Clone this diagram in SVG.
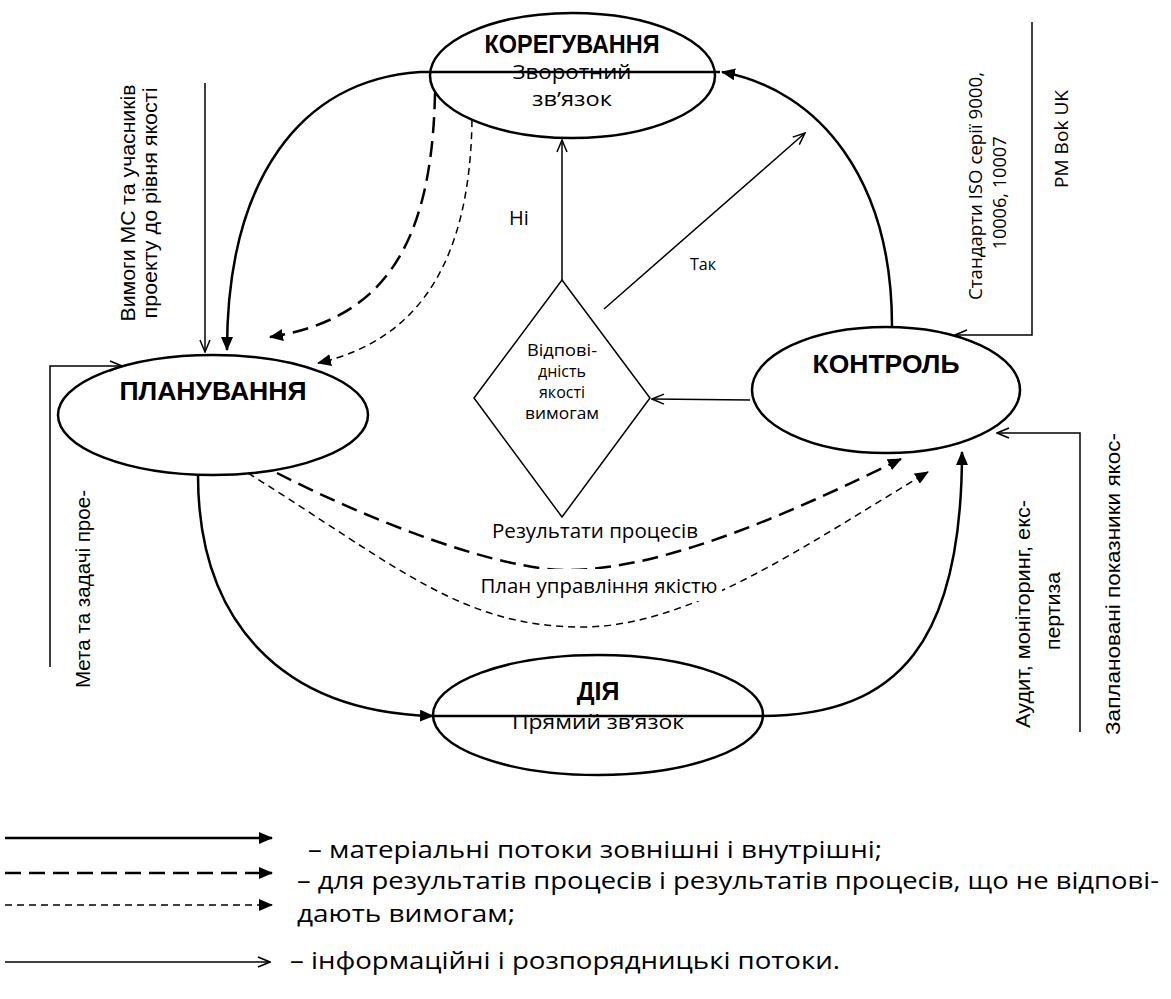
<svg xmlns="http://www.w3.org/2000/svg" width="1171" height="999" viewBox="0 0 1171 999">
  <style>
    .node { fill: #fff; stroke: #000; stroke-width: 2.5; }
    .dia { fill: #fff; stroke: #000; stroke-width: 1.5; }
    .title { font-family: "Liberation Sans", Arial, sans-serif; font-weight: bold; font-size: 25px; text-anchor: middle; fill: #000; }
    .lbl { font-family: "Open Sans", "Liberation Sans", sans-serif; font-size: 20px; text-anchor: middle; fill: #000; }
    .small { font-family: "Open Sans", "Liberation Sans", sans-serif; font-size: 16px; text-anchor: middle; fill: #000; }
    .side { font-family: "Liberation Sans", Arial, sans-serif; font-size: 20px; text-anchor: middle; fill: #000; }
    .std { font-family: "Open Sans", "Liberation Sans", sans-serif; font-size: 18px; text-anchor: middle; fill: #000; }
    .leg { font-family: "Open Sans", "Liberation Sans", sans-serif; font-size: 23px; fill: #000; }
    .mat { fill: none; stroke: #000; stroke-width: 2.5; marker-end: url(#head); }
    .res { fill: none; stroke: #000; stroke-width: 2.5; stroke-dasharray: 16 8; marker-end: url(#head); }
    .nc { fill: none; stroke: #000; stroke-width: 1.5; stroke-dasharray: 7 5; marker-end: url(#head); }
    .info { fill: none; stroke: #000; stroke-width: 1.5; marker-end: url(#open); }
  </style>
  <defs>
    <marker id="head" viewBox="0 0 14 12" refX="13" refY="6" markerWidth="14" markerHeight="12" markerUnits="userSpaceOnUse" orient="auto">
      <path d="M0,0 L14,6 L0,12 z" fill="#000"/>
    </marker>
    <marker id="open" viewBox="0 0 14 12" refX="13" refY="6" markerWidth="14" markerHeight="12" markerUnits="userSpaceOnUse" orient="auto">
      <path d="M1,1 L13,6 L1,11" fill="none" stroke="#000" stroke-width="1.5"/>
    </marker>
  </defs>

  <rect width="1171" height="999" fill="#fff"/>

  <!-- Nodes -->
  <g id="node-correction">
    <ellipse class="node" cx="572.5" cy="75.5" rx="142.5" ry="62.5"/>
    <text class="title" x="572" y="53" textLength="175" lengthAdjust="spacingAndGlyphs">КОРЕГУВАННЯ</text>
    <text class="lbl" x="572" y="79" font-size="21" textLength="119" lengthAdjust="spacingAndGlyphs">Зворотний</text>
    <text class="lbl" x="572" y="106" font-size="21" textLength="80" lengthAdjust="spacingAndGlyphs">зв’язок</text>
  </g>

  <g id="node-planning">
    <ellipse class="node" cx="213" cy="415" rx="155" ry="60"/>
    <text class="title" x="213" y="400" textLength="187" lengthAdjust="spacingAndGlyphs">ПЛАНУВАННЯ</text>
  </g>

  <g id="node-control">
    <ellipse class="node" cx="886" cy="390" rx="134" ry="63"/>
    <text class="title" x="886" y="373" textLength="147" lengthAdjust="spacingAndGlyphs">КОНТРОЛЬ</text>
  </g>

  <g id="node-action">
    <ellipse class="node" cx="598" cy="715" rx="165" ry="60"/>
    <text class="title" x="598" y="700" font-size="24">ДІЯ</text>
    <text class="lbl" x="598" y="729" textLength="172" lengthAdjust="spacingAndGlyphs">Прямий зв’язок</text>
  </g>

  <g id="node-decision">
    <polygon class="dia" points="562,280 650,398 562,517 474,398"/>
    <text class="small" x="562" y="356" textLength="70" lengthAdjust="spacingAndGlyphs">Відпові-</text>
    <text class="small" x="562" y="377">дність</text>
    <text class="small" x="562" y="398">якості</text>
    <text class="small" x="562" y="419" textLength="74" lengthAdjust="spacingAndGlyphs">вимогам</text>
  </g>

  <!-- Connectors -->
  <g id="connectors">
    <!-- feedback loop: control -> correction -> planning -->
    <path class="mat" d="M892,326 C892,180 820,90 722,72"/>
    <path class="mat" d="M720,72 H420 C300,80 227,180 227,350"/>
    <!-- direct loop: planning -> action -> control -->
    <path class="mat" d="M198,475 C198,620 280,712 433,716"/>
    <path class="mat" d="M433,716 H762 C900,716 962,640 962,452"/>
    <!-- returns from correction to planning -->
    <path class="res" d="M435,93 C432,250 380,320 270,337"/>
    <path class="nc" d="M472,120 C470,260 420,340 318,363"/>
    <!-- planning to control -->
    <path class="res" d="M277,473 C377,524 500,570 567,570 C667,570 801,508 901,459"/>
    <path class="nc" d="M248,473 C398,567 462,627 582,627 C692,627 808,543 928,472"/>
    <!-- information flows -->
    <path class="info" d="M205,83 V352"/>
    <path class="info" d="M50,667 V366 H122"/>
    <path class="info" d="M562,280 V140"/>
    <path class="info" d="M604,309 L805,133"/>
    <path class="info" d="M750,400 L652,399"/>
    <path class="info" d="M1032,22 V335 H955"/>
    <path class="info" d="M1080,732 V433 H997"/>
  </g>

  <!-- Connector labels -->
  <g id="labels">
    <text class="lbl" x="519" y="225">Ні</text>
    <text class="small" x="703" y="270">Так</text>
    <text class="lbl" x="595" y="538" textLength="206" lengthAdjust="spacingAndGlyphs">Результати процесів</text>
    <rect x="478" y="569" width="244" height="32" fill="#fff"/>
    <text class="lbl" x="599" y="593" textLength="237" lengthAdjust="spacingAndGlyphs">План управління якістю</text>

    <text class="side" transform="translate(135,203) rotate(-90)" textLength="237" lengthAdjust="spacingAndGlyphs">Вимоги МС та учасників</text>
    <text class="side" transform="translate(157,203) rotate(-90)" textLength="231" lengthAdjust="spacingAndGlyphs">проекту до рівня якості</text>
    <text class="side" transform="translate(90,589) rotate(-90)" textLength="198" lengthAdjust="spacingAndGlyphs">Мета та задачі прое-</text>

    <text class="std" transform="translate(982,186) rotate(-90)" textLength="228" lengthAdjust="spacingAndGlyphs">Стандарти ISO серії  9000,</text>
    <text class="std" transform="translate(1006,193) rotate(-90)" textLength="113" lengthAdjust="spacingAndGlyphs">10006, 10007</text>
    <text class="std" transform="translate(1068,139) rotate(-90)" textLength="98" lengthAdjust="spacingAndGlyphs">PM Bok UK</text>

    <text class="side" transform="translate(1030,614) rotate(-90)" textLength="228" lengthAdjust="spacingAndGlyphs">Аудит, моніторинг, екс-</text>
    <text class="side" transform="translate(1060,611) rotate(-90)" textLength="78" lengthAdjust="spacingAndGlyphs">пертиза</text>
    <text class="side" transform="translate(1120,584) rotate(-90)" textLength="302" lengthAdjust="spacingAndGlyphs">Заплановані показники якос-</text>
  </g>

  <!-- Legend -->
  <g id="legend">
    <path class="mat" d="M5,838 H272"/>
    <path class="res" d="M5,873 H272"/>
    <path class="nc" d="M5,905 H272"/>
    <path class="info" d="M5,962 H270"/>
    <text class="leg" x="308" y="858" textLength="574" lengthAdjust="spacingAndGlyphs">– матеріальні потоки зовнішні  і внутрішні;</text>
    <text class="leg" x="297" y="889" textLength="862" lengthAdjust="spacingAndGlyphs">– для результатів процесів і результатів процесів, що не відпові-</text>
    <text class="leg" x="297" y="922" textLength="218" lengthAdjust="spacingAndGlyphs">дають вимогам;</text>
    <text class="leg" x="290" y="969" textLength="550" lengthAdjust="spacingAndGlyphs">– інформаційні і розпорядницькі потоки.</text>
  </g>
</svg>
